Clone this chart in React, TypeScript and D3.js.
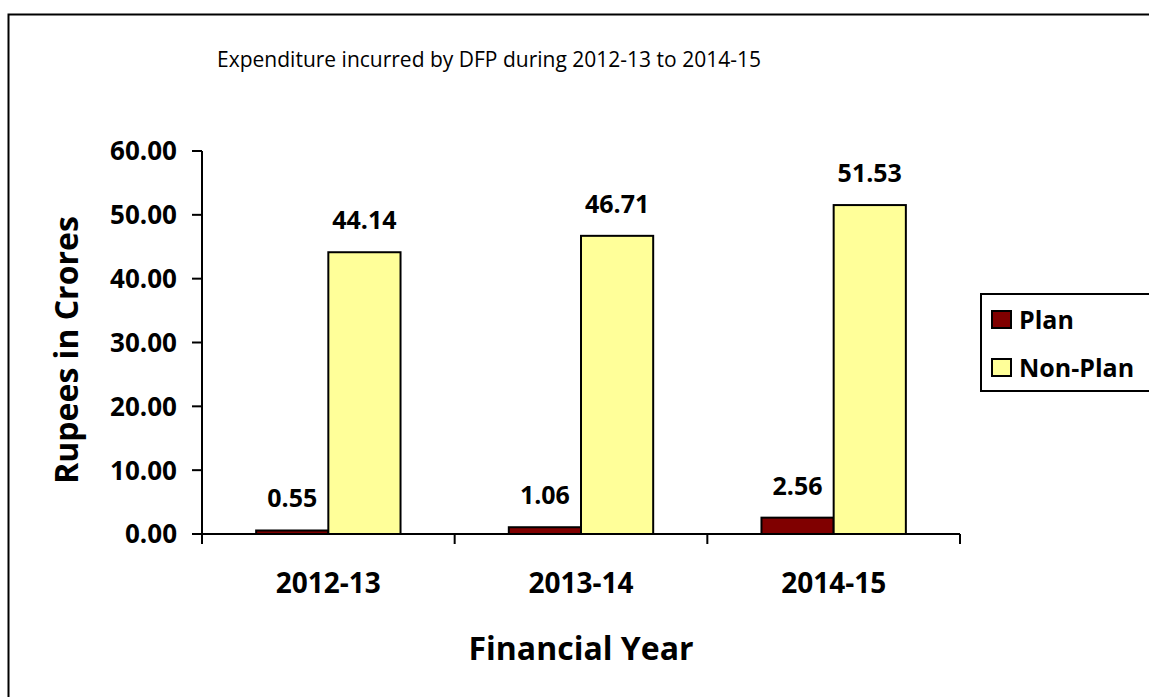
import * as d3 from 'd3';
import { useEffect, useRef } from 'react';

const years = ['2012-13', '2013-14', '2014-15'];
const seriesNames = ['Plan', 'Non-Plan'];
const planValues = [0.55, 1.06, 2.56];
const nonPlanValues = [44.14, 46.71, 51.53];
const seriesColors = ['#800000', '#FFFF99'];
const yTicks = [0, 10, 20, 30, 40, 50, 60];

const W = 1149;
const H = 697;
const FONT = '"Open Sans", "DejaVu Sans", sans-serif';

const App = () => {
  const ref = useRef<SVGSVGElement | null>(null);

  useEffect(() => {
    if (!ref.current) return;
    const svg = d3.select(ref.current);
    svg.selectAll('*').remove();

    // outer chart border, runs off the right and bottom edges
    svg
      .append('rect')
      .attr('x', 8.5)
      .attr('y', 14.5)
      .attr('width', 1300)
      .attr('height', 900)
      .attr('fill', 'white')
      .attr('stroke', '#000')
      .attr('stroke-width', 2);

    const x = d3.scaleBand<string>().domain(years).range([202, 960]);
    const inner = d3
      .scaleBand<string>()
      .domain(seriesNames)
      .range([0, x.bandwidth()])
      .paddingInner(0)
      .paddingOuter(0.75);
    const y = d3.scaleLinear().domain([0, 60]).range([534, 151]);

    const values = [planValues, nonPlanValues];

    // y axis
    const yAxis = svg.append('g').attr('transform', 'translate(202,0)');
    yAxis
      .append('line')
      .attr('x1', 0)
      .attr('x2', 0)
      .attr('y1', y(0))
      .attr('y2', y(60))
      .attr('stroke', '#000')
      .attr('stroke-width', 2);
    yTicks.forEach((t) => {
      yAxis
        .append('line')
        .attr('x1', -10)
        .attr('x2', 0)
        .attr('y1', y(t))
        .attr('y2', y(t))
        .attr('stroke', '#000')
        .attr('stroke-width', 2);
      yAxis
        .append('text')
        .attr('x', -25)
        .attr('y', y(t))
        .attr('dy', '0.36em')
        .attr('text-anchor', 'end')
        .attr('font-family', FONT)
        .attr('font-weight', 700)
        .attr('font-size', 26)
        .text(d3.format('.2f')(t));
    });

    // bars + value labels
    values.forEach((vals, si) => {
      const name = seriesNames[si];
      svg
        .append('g')
        .selectAll('rect')
        .data(vals)
        .enter()
        .append('rect')
        .attr('x', (_d, i) => (x(years[i]) as number) + (inner(name) as number))
        .attr('y', (d) => y(d))
        .attr('width', inner.bandwidth())
        .attr('height', (d) => y(0) - y(d))
        .attr('fill', seriesColors[si])
        .attr('stroke', '#000')
        .attr('stroke-width', 2);

      svg
        .append('g')
        .selectAll('text')
        .data(vals)
        .enter()
        .append('text')
        .attr(
          'x',
          (_d, i) =>
            (x(years[i]) as number) + (inner(name) as number) + inner.bandwidth() / 2
        )
        .attr('y', (d) => y(d) - 23)
        .attr('text-anchor', 'middle')
        .attr('font-family', FONT)
        .attr('font-weight', 700)
        .attr('font-size', 25)
        .text((d) => d3.format('.2f')(d));
    });

    // x axis
    svg
      .append('line')
      .attr('x1', 202)
      .attr('x2', 960)
      .attr('y1', y(0))
      .attr('y2', y(0))
      .attr('stroke', '#000')
      .attr('stroke-width', 2);
    const edges = years.map((d) => x(d) as number).concat([960]);
    edges.forEach((e) => {
      svg
        .append('line')
        .attr('x1', e)
        .attr('x2', e)
        .attr('y1', y(0))
        .attr('y2', y(0) + 10)
        .attr('stroke', '#000')
        .attr('stroke-width', 2);
    });
    years.forEach((yr) => {
      svg
        .append('text')
        .attr('x', (x(yr) as number) + x.bandwidth() / 2)
        .attr('y', 593)
        .attr('text-anchor', 'middle')
        .attr('font-family', FONT)
        .attr('font-weight', 700)
        .attr('font-size', 28)
        .text(yr);
    });

    // titles
    svg
      .append('text')
      .attr('x', 489)
      .attr('y', 67)
      .attr('text-anchor', 'middle')
      .attr('font-family', FONT)
      .attr('font-size', 21)
      .text('Expenditure incurred by DFP during 2012-13 to 2014-15');

    svg
      .append('text')
      .attr('x', 581)
      .attr('y', 660)
      .attr('text-anchor', 'middle')
      .attr('font-family', FONT)
      .attr('font-weight', 700)
      .attr('font-size', 32)
      .text('Financial Year');

    svg
      .append('text')
      .attr('transform', 'translate(78,350) rotate(-90)')
      .attr('text-anchor', 'middle')
      .attr('font-family', FONT)
      .attr('font-weight', 700)
      .attr('font-size', 32)
      .text('Rupees in Crores');

    // legend, its right side is cut off by the image edge
    const lg = svg.append('g');
    lg.append('rect')
      .attr('x', 981)
      .attr('y', 294)
      .attr('width', 200)
      .attr('height', 97)
      .attr('fill', 'white')
      .attr('stroke', '#000')
      .attr('stroke-width', 2);
    seriesNames.forEach((s, i) => {
      const cy = 319 + i * 48;
      lg.append('rect')
        .attr('x', 992)
        .attr('y', cy - 8)
        .attr('width', 19)
        .attr('height', 17)
        .attr('fill', seriesColors[i])
        .attr('stroke', '#000')
        .attr('stroke-width', 2);
      lg.append('text')
        .attr('x', 1019)
        .attr('y', cy + 10)
        .attr('font-family', FONT)
        .attr('font-weight', 700)
        .attr('font-size', 25)
        .text(s);
    });
  }, []);

  return (
    <svg
      ref={ref}
      width={W}
      height={H}
      style={{ position: 'absolute', left: 0, top: 0, background: 'white' }}
    />
  );
};

export default App;
